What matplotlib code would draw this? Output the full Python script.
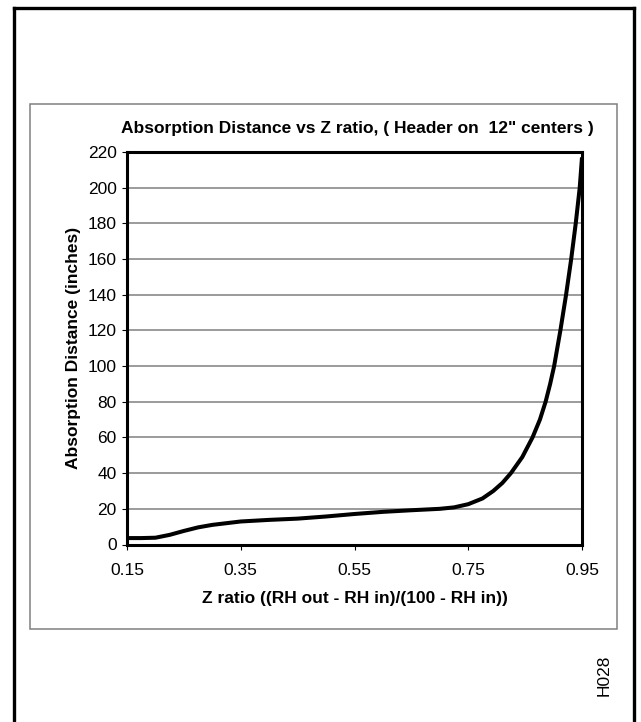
import matplotlib
matplotlib.use("Agg")
import matplotlib.pyplot as plt
from matplotlib.patches import Rectangle
from matplotlib.lines import Line2D

plt.rcParams['font.family'] = ['Liberation Sans', 'DejaVu Sans']

# values
z_ratio = [0.15, 0.175, 0.20, 0.225, 0.25, 0.275, 0.30, 0.35, 0.40, 0.45, 0.50,
           0.55, 0.60, 0.65, 0.70, 0.725, 0.75, 0.775, 0.794, 0.81, 0.825,
           0.845, 0.863, 0.876, 0.886, 0.894, 0.901, 0.912, 0.922, 0.931,
           0.939, 0.946, 0.95]
distance = [3.6, 3.6, 3.8, 5.4, 7.6, 9.6, 11.0, 12.9, 13.8, 14.5, 15.7,
            17.1, 18.3, 19.2, 20.0, 20.8, 22.6, 25.8, 30.0, 34.5, 40.0,
            49.0, 60.0, 70.0, 80.0, 90.0, 100.0, 120.0, 140.0, 160.0,
            180.0, 200.0, 217.0]

x_ticks = [0.15, 0.35, 0.55, 0.75, 0.95]
y_ticks = list(range(0, 221, 20))

W, H = 641, 722
fig = plt.figure(figsize=(W / 100, H / 100), dpi=100)

def fx(px):
    return px / W

def fy(py):
    return 1 - py / H

# outer black frame (open at the bottom) and grey chart-area box
for xs, ys in [([13.5, 13.5], [H + 5, 7.5]),
               ([13.5, 633.5], [7.5, 7.5]),
               ([633.5, 633.5], [7.5, H + 5])]:
    fig.add_artist(Line2D([fx(x) for x in xs], [fy(y) for y in ys],
                          color="black", lw=2.4, solid_capstyle="projecting"))
fig.add_artist(Rectangle((fx(29.5), fy(628.5)), fx(617) - fx(29.5),
                         fy(104) - fy(628.5), fill=False,
                         edgecolor="#808080", lw=1.1))

ax = fig.add_axes([fx(127), fy(544.5), fx(582) - fx(127), fy(152) - fy(544.5)])
ax.plot(z_ratio, distance, color="black", lw=2.9, solid_joinstyle="round",
        solid_capstyle="butt", clip_on=False, zorder=4)

ax.set_xlim(0.15, 0.95)
ax.set_ylim(0, 220)
ax.set_xticks(x_ticks)
ax.set_xticklabels([f"{v:.2f}" for v in x_ticks])
ax.set_yticks(y_ticks)
ax.yaxis.grid(True, color="#808080", lw=1.1)
ax.set_axisbelow(True)
for s in ax.spines.values():
    s.set_linewidth(2.2)
    s.set_zorder(5)
ax.tick_params(direction="out", length=3.5, width=0.8, labelsize=12.5,
               colors="black")
ax.tick_params(axis="x", pad=9.6)
ax.tick_params(axis="y", pad=4)

ax.set_xlabel("Z ratio ((RH out - RH in)/(100 - RH in))", fontsize=12.5,
              fontweight="bold", labelpad=9.5)
ax.set_ylabel("Absorption Distance (inches)", fontsize=12.5,
              fontweight="bold", labelpad=5)

fig.text(fx(357), fy(128), "Absorption Distance vs Z ratio, ( Header on  12\" centers )",
         ha="center", va="center", fontsize=12.5, fontweight="bold")
fig.text(fx(604), fy(675), "H028", rotation=90, ha="center", va="center",
         fontsize=12.5)

fig.savefig("out.png", dpi=100)
